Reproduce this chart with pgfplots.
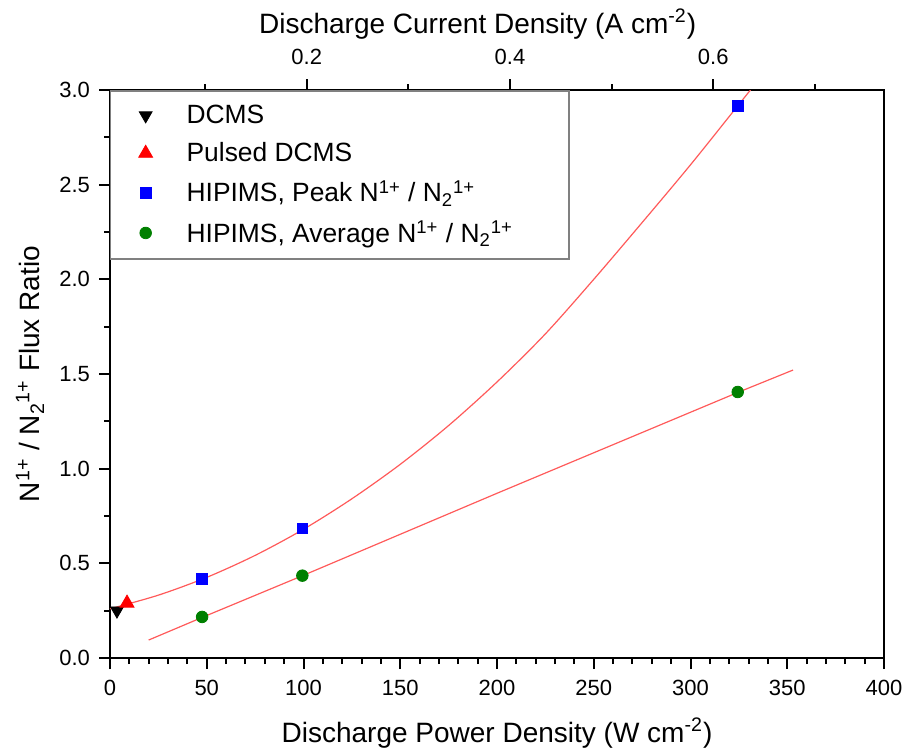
\documentclass[border=0pt]{standalone}
\usepackage{fontspec}
\setmainfont{Liberation Sans}
\usepackage{pgfplots}
\pgfplotsset{compat=1.18}
\definecolor{fitred}{RGB}{255,90,90}
\definecolor{dgreen}{RGB}{0,128,0}
\begin{document}
\begin{tikzpicture}
\useasboundingbox (-55pt,-46.5pt) rectangle (396.5pt,329pt);
% top axis (current density)
\begin{axis}[at={(0,0)}, anchor=south west, scale only axis,
  width=387pt, height=284pt,
  xmin=0.0064, xmax=0.768, ymin=0, ymax=3,
  axis x line*=top, axis y line=none,
  xtick={0.2,0.4,0.6}, minor xtick={0.1,0.3,0.5,0.7},
  xticklabels={0.2,0.4,0.6},
  tick align=outside, major tick length=5.5pt, minor tick length=3pt,
  axis line style={line width=1pt},
  every tick/.style={black, line width=1pt},
  xticklabel style={anchor=center, yshift=11pt, font=\fontsize{11}{13}\selectfont},
  xlabel={Discharge Current Density (A cm\textsuperscript{-2})},
  xlabel style={at={([yshift=33pt]rel axis cs:0.475,1)}, anchor=center, font=\fontsize{14}{16}\selectfont},
]
\addplot[draw=none, forget plot] coordinates {(0.1,1)};
\end{axis}
% main axis
\begin{axis}[at={(0,0)}, anchor=south west, scale only axis,
  width=387pt, height=284pt,
  xmin=0, xmax=400, ymin=0, ymax=3,
  xtick={0,50,...,400}, minor x tick num=4,
  ytick={0,0.5,...,3}, minor y tick num=1,
  xtick pos=bottom, ytick pos=left,
  tick align=outside, major tick length=5.5pt, minor tick length=3pt,
  axis line style={line width=1pt},
  every tick/.style={black, line width=1pt},
  /pgf/number format/assume math mode=true,
  xticklabel style={anchor=center, yshift=-9.5pt, font=\fontsize{11}{13}\selectfont},
  yticklabel style={anchor=east, xshift=-1pt, font=\fontsize{11}{13}\selectfont,
    /pgf/number format/.cd, fixed, fixed zerofill, precision=1},
  xlabel={Discharge Power Density (W cm\textsuperscript{-2})},
  xlabel style={at={([yshift=-37.5pt]rel axis cs:0.5,0)}, anchor=center, font=\fontsize{14}{16}\selectfont},
  ylabel={N\textsuperscript{1+} / N\textsubscript{2}\textsuperscript{1+} Flux Ratio},
  ylabel style={at={([xshift=-40pt]rel axis cs:0,0.5)}, anchor=center, rotate=0, font=\fontsize{14}{16}\selectfont},
  legend style={at={(rel axis cs:0,1)}, anchor=north west, draw=gray, line width=0.75pt,
    font=\fontsize{13.2}{15}\selectfont, inner xsep=14pt, inner ysep=5pt, row sep=4pt,
    /tikz/every odd column/.append style={column sep=15pt}},
  legend cell align=left,
  legend image post style={line width=0.4pt},
]
\addplot[fitred, line width=0.6pt, smooth, forget plot] coordinates {
 (0,0.26) (25,0.332) (50,0.426) (75,0.542) (100,0.68) (125,0.841) (150,1.023)
 (175,1.228) (200,1.458) (225,1.712) (250,2.0) (275,2.30) (300,2.605) (325,2.924) (331,3.0)};
\addplot[fitred, line width=0.6pt, forget plot] coordinates {
 (20,0.095) (48,0.216) (100,0.437) (200,0.87) (325,1.405) (353,1.521)};
\addplot[only marks, mark=triangle*, mark size=3.7pt, black, mark options={rotate=180}] coordinates {(3.6,0.25)};
\addlegendentry{DCMS}
\addplot[only marks, mark=triangle*, mark size=4pt, red] coordinates {(8.8,0.29)};
\addlegendentry{Pulsed DCMS}
\addplot[only marks, mark=square*, mark size=2.7pt, blue] coordinates {(47.6,0.417) (99.4,0.685) (324.4,2.916)};
\addlegendentry{HIPIMS, Peak N\textsuperscript{1+} / N\textsubscript{2}\textsuperscript{1+}}
\addplot[only marks, mark=*, mark size=2.9pt, dgreen] coordinates {(47.6,0.217) (99.4,0.435) (324.4,1.405)};
\addlegendentry{HIPIMS, Average N\textsuperscript{1+} / N\textsubscript{2}\textsuperscript{1+}\hspace*{12pt}}
\end{axis}
\end{tikzpicture}
\end{document}
